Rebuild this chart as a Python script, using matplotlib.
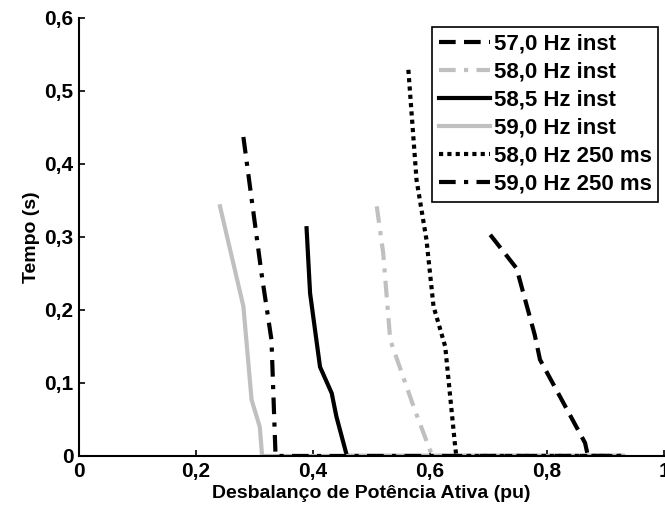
import matplotlib.pyplot as plt
from matplotlib.ticker import FuncFormatter

plt.rcParams['font.family'] = ['Liberation Sans', 'DejaVu Sans']
plt.rcParams['font.weight'] = 'bold'

# Curves: x = desbalanco (pu), y = tempo (s)
x_57_inst = [0.703, 0.748, 0.779, 0.788, 0.865, 0.870, 0.93]
y_57_inst = [0.303, 0.257, 0.166, 0.132, 0.018, 0.0, 0.0]

x_58_inst = [0.509, 0.520, 0.532, 0.574, 0.600, 0.605, 0.93]
y_58_inst = [0.342, 0.278, 0.159, 0.063, 0.008, 0.0, 0.0]

x_585_inst = [0.389, 0.395, 0.412, 0.432, 0.440, 0.458, 0.93]
y_585_inst = [0.312, 0.223, 0.122, 0.086, 0.054, 0.0, 0.0]

x_59_inst = [0.241, 0.281, 0.295, 0.309, 0.313, 0.93]
y_59_inst = [0.342, 0.205, 0.077, 0.040, 0.0, 0.0]

x_58_250 = [0.563, 0.577, 0.594, 0.606, 0.626, 0.643, 0.645, 0.93]
y_58_250 = [0.529, 0.378, 0.296, 0.205, 0.150, 0.013, 0.0, 0.0]

x_59_250 = [0.281, 0.312, 0.329, 0.336, 0.93]
y_59_250 = [0.437, 0.250, 0.159, 0.0, 0.0]

labels = ['57,0 Hz inst', '58,0 Hz inst', '58,5 Hz inst', '59,0 Hz inst',
          '58,0 Hz 250 ms', '59,0 Hz 250 ms']

fig = plt.figure(figsize=(6.65, 5.12), dpi=100)
ax = fig.add_axes([0.1188, 0.1094, 0.8797, 0.8555])

gray = '#c0c0c0'
lw = 3
ax.plot(x_57_inst, y_57_inst, color='black', lw=lw, dashes=(4, 2), label=labels[0])
ax.plot(x_58_inst, y_58_inst, color=gray, lw=lw, dashes=(4, 2, 1, 2), label=labels[1])
ax.plot(x_585_inst, y_585_inst, color='black', lw=lw, label=labels[2])
ax.plot(x_59_inst, y_59_inst, color=gray, lw=lw, label=labels[3])
ax.plot(x_58_250, y_58_250, color='black', lw=lw, dashes=(1, 1), label=labels[4])
ax.plot(x_59_250, y_59_250, color='black', lw=lw, dashes=(4, 2, 1, 2), label=labels[5])

ax.set_xlim(0, 1)
ax.set_ylim(0, 0.6)
ax.set_xticks([0, 0.2, 0.4, 0.6, 0.8, 1])
ax.set_yticks([0, 0.1, 0.2, 0.3, 0.4, 0.5, 0.6])
fmt = FuncFormatter(lambda v, p: ('%g' % round(v, 2)).replace('.', ','))
ax.xaxis.set_major_formatter(fmt)
ax.yaxis.set_major_formatter(fmt)
ax.tick_params(direction='in', length=4, width=1.2, labelsize=15, pad=4)
for s in ['top', 'right']:
    ax.spines[s].set_visible(False)
for s in ['left', 'bottom']:
    ax.spines[s].set_linewidth(1.5)

ax.set_xlabel('Desbalanço de Potência Ativa (pu)', fontsize=14, fontweight='bold', labelpad=3)
ax.set_ylabel('Tempo (s)', fontsize=14, fontweight='bold', labelpad=3)

leg = ax.legend(loc='upper right', bbox_to_anchor=(0.99, 0.98), fontsize=16,
                fancybox=False, edgecolor='black', framealpha=1,
                handlelength=2.3, handletextpad=0.15, labelspacing=0.32,
                borderpad=0.3, borderaxespad=0)
leg.get_frame().set_linewidth(1.2)
for t in leg.get_texts():
    t.set_fontweight('bold')

fig.savefig('out.png', dpi=100)
